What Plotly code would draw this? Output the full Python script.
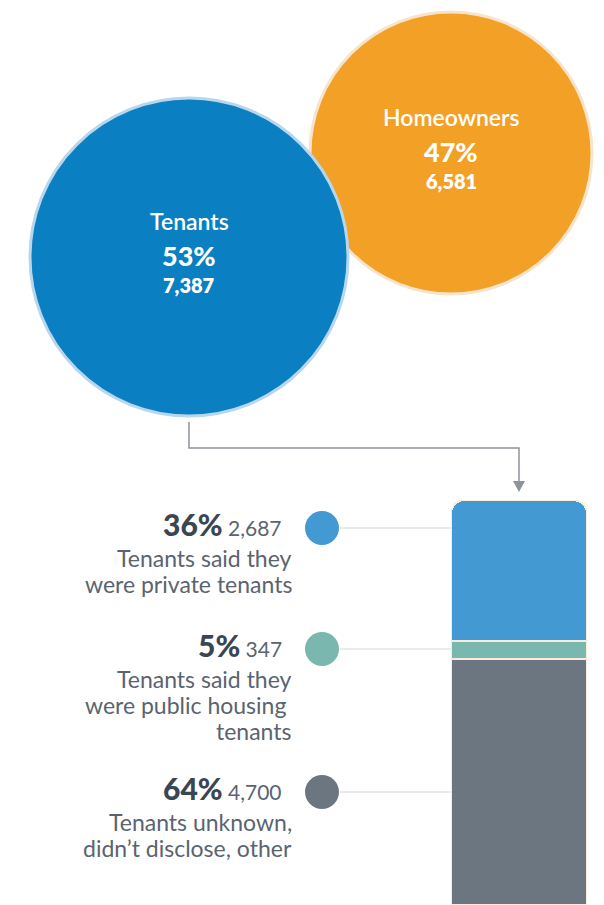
import plotly.graph_objects as go

# ---------------- data ----------------
groups = ["Homeowners", "Tenants"]
group_pct = [47, 53]
group_count = [6581, 7387]
group_colors = ["#f3a027", "#0a7fc2"]
group_edge = ["#f6e4cc", "#b8d6ec"]

sub_lines = [["Tenants said they", "were private tenants"],
             ["Tenants said they", "were public housing\u00a0", "tenants"],
             ["Tenants unknown,", "didn\u2019t disclose, other"]]
sub_pct = [36, 5, 64]
sub_count = [2687, 347, 4700]
sub_colors = ["#4399d1", "#7ab8af", "#6c7681"]

# ---------------- layout constants ----------------
W, H = 604, 905
circle_cx = [451, 189]
circle_cy = [153, 257]
row_y = [528, 649, 792]
FONT = "Lato"
DARK = "#3a4652"
MID = "#5a6470"

fig = go.Figure()

# big circles (diameter = 6 px per percent)
fig.add_trace(go.Scatter(
    x=circle_cx, y=circle_cy, mode="markers",
    marker=dict(size=group_pct, sizemode="diameter", sizeref=1/6,
                color=group_colors, opacity=1,
                line=dict(color=group_edge, width=3)),
    hoverinfo="skip", showlegend=False))

for name, p, c, cx, cy in zip(groups, group_pct, group_count, circle_cx, circle_cy):
    fig.add_annotation(x=cx, y=cy - 36, text=name, showarrow=False,
                       font=dict(family=FONT, size=23, color="white", weight=600))
    fig.add_annotation(x=cx, y=cy - 2, text=f"{p}%", showarrow=False,
                       font=dict(family=FONT, size=27, color="white", weight=900))
    fig.add_annotation(x=cx, y=cy + 28, text=f"{c:,}", showarrow=False,
                       font=dict(family=FONT, size=20, color="white", weight=800))

# connector with arrow
fig.add_shape(type="path", path="M 189 422 L 189 448 L 519 448 L 519 482",
              line=dict(color="#8e939a", width=1.5), xref="x", yref="y")
fig.add_shape(type="path", path="M 513 481 L 525 481 L 519 492 Z",
              fillcolor="#8e939a", line=dict(width=0), xref="x", yref="y")

# guide lines from dots to bar
for y in row_y:
    fig.add_shape(type="line", x0=340, x1=452, y0=y, y1=y,
                  line=dict(color="#e2e3e5", width=1.5), xref="x", yref="y", layer="below")

# dots
fig.add_trace(go.Scatter(
    x=[322] * len(sub_pct), y=row_y, mode="markers",
    marker=dict(size=34, color=sub_colors, line=dict(width=0)),
    hoverinfo="skip", showlegend=False))

# labels
for lines, p, c, y in zip(sub_lines, sub_pct, sub_count, row_y):
    fig.add_annotation(x=284, y=y - 4, xanchor="right", yanchor="middle",
                       text=f"<span style='font-size:30px;color:{DARK};font-weight:900'>{p}%</span> "
                            f"<span style='font-size:21px;color:{MID}'>{c:,}</span>",
                       showarrow=False, font=dict(family=FONT, size=21, color=MID))
    for k, ln in enumerate(lines):
        fig.add_annotation(x=294, y=y + 30 + 26 * k, xanchor="right", yanchor="middle",
                           text=ln, showarrow=False,
                           font=dict(family=FONT, size=23, color=MID))

# stacked bar (bottom to top: other, public, private)
for i in [2, 1, 0]:
    fig.add_trace(go.Bar(
        x=[0], y=[sub_count[i]], width=1, xaxis="x2", yaxis="y2",
        marker=dict(color=sub_colors[i], line=dict(color="#f9ecdc", width=2)),
        hoverinfo="skip", showlegend=False))

total = sum(sub_count)
fig.update_layout(
    width=W, height=H, margin=dict(l=0, r=0, t=0, b=0),
    paper_bgcolor="white", plot_bgcolor="rgba(0,0,0,0)",
    barmode="stack", barcornerradius=14,
    xaxis=dict(range=[0, W], domain=[0, 1], visible=False, fixedrange=True),
    yaxis=dict(range=[H, 0], domain=[0, 1], visible=False, fixedrange=True),
    xaxis2=dict(range=[-0.5, 0.5], domain=[451 / W, 587 / W], visible=False,
                anchor="y2", fixedrange=True),
    yaxis2=dict(range=[0, total], domain=[0, 405 / H], visible=False, anchor="x2",
                fixedrange=True),
)

fig.write_html("out.html", config={"displayModeBar": False},
               post_script="document.body.style.margin='0';document.body.style.overflow='hidden';")
